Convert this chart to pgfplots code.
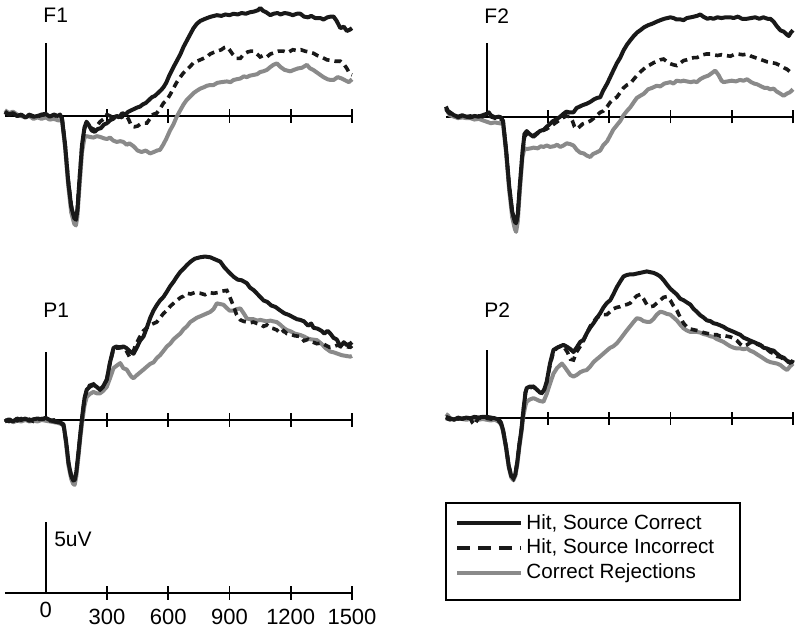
\documentclass[border=0pt]{standalone}
\usepackage{fontspec}
\setmainfont{Liberation Sans}
\usepackage{pgfplots}
\pgfplotsset{compat=1.18}
\definecolor{crgray}{RGB}{138,138,138}
\pgfplotsset{
  erp/.style={x=0.1021pt, y=7.2pt, xmin=-200, xmax=1500,
    axis x line=middle, axis y line=none,
    x axis line style={-, line width=0.85pt},
    xtick={300,600,...,1500}, xticklabels={}, ytick=\empty,
    tick align=center, major tick length=6.7pt,
    every tick/.style={black, line width=0.85pt},
    clip=false, anchor=south west},
  hsc/.style={black!90, line width=2pt, line join=round},
  hsi/.style={black!90, line width=1.8pt, dash pattern=on 3.5pt off 2.5pt},
  cr/.style={crgray, line width=2pt, line join=round},
  bar/.style={black, line width=0.85pt, forget plot},
}
\tikzset{plab/.style={anchor=base west, inner sep=0pt, font=\fontsize{10.5}{12}\selectfont}}
\begin{document}
\begin{tikzpicture}
\useasboundingbox (0,0) rectangle (400pt,313.5pt);

% ---------------- F1 ----------------
\begin{axis}[erp, at={(2.43pt,190.7pt)}, ymin=-9, ymax=9]
\addplot[bar] coordinates {(0,0) (0,5.1)};
\addplot[cr] coordinates {(-200,0.4) (-180,0.2) (-160,0.3) (-140,0.1) (-120,0.0) (-100,-0.1) (-80,0.0) (-60,-0.2) (-40,-0.1) (-20,-0.2) (0,-0.1) (20,-0.25) (40,-0.2) (60,-0.3) (80,-0.3) (95,-2.2) (110,-4.8) (125,-6.7) (140,-7.5) (148,-7.6) (155,-7.0) (165,-5.0) (178,-2.5) (190,-1.5) (200,-1.4) (215,-1.45) (234,-1.5) (250,-1.4) (266,-1.45) (285,-1.55) (300,-1.6) (315,-1.5) (330,-1.7) (348,-1.8) (365,-1.75) (380,-1.8) (397,-2.0) (410,-1.9) (430,-2.1) (450,-2.4) (470,-2.5) (490,-2.4) (511,-2.6) (530,-2.5) (545,-2.4) (560,-2.35) (575,-2.0) (590,-1.6) (609,-1.0) (625,-0.6) (640,-0.1) (659,0.4) (675,0.8) (690,1.1) (708,1.35) (725,1.6) (740,1.75) (757,1.9) (775,2.0) (790,2.1) (805,2.15) (822,2.15) (840,2.3) (860,2.35) (887,2.4) (905,2.35) (920,2.5) (935,2.55) (953,2.6) (970,2.75) (985,2.7) (1000,2.8) (1018,2.85) (1035,2.9) (1050,3.05) (1065,3.1) (1083,3.2) (1100,3.4) (1115,3.55) (1132,3.65) (1150,3.4) (1170,3.2) (1198,3.1) (1215,3.2) (1235,3.3) (1255,3.35) (1279,3.55) (1295,3.3) (1310,3.2) (1330,3.0) (1345,2.85) (1360,2.7) (1380,2.55) (1395,2.5) (1410,2.5) (1430,2.7) (1450,2.6) (1470,2.45) (1485,2.35) (1500,2.55)};
\addplot[hsi] coordinates {(-200,0.25) (-180,0.1) (-160,0.15) (-140,0.0) (-120,0.05) (-100,-0.05) (-80,0.1) (-60,0.0) (-40,-0.05) (-20,0.05) (0,0.1) (20,0.0) (40,0.05) (60,-0.05) (80,-0.15) (95,-2.0) (110,-4.4) (125,-6.2) (140,-7.0) (148,-7.1) (155,-6.5) (165,-4.4) (178,-2.0) (190,-0.9) (200,-0.5) (215,-0.7) (234,-1.0) (250,-0.7) (266,-0.4) (285,-0.2) (300,0.1) (315,0.0) (330,-0.1) (350,0.0) (370,-0.1) (390,0.05) (405,-0.2) (420,-0.7) (435,-0.75) (450,-0.7) (465,-0.55) (480,-0.5) (495,-0.5) (510,-0.2) (525,0.1) (544,0.2) (560,0.5) (577,0.9) (593,1.1) (610,1.5) (625,1.9) (640,2.3) (659,2.7) (675,3.0) (690,3.2) (705,3.4) (724,3.7) (740,3.8) (757,3.9) (773,4.0) (789,4.1) (805,4.3) (820,4.4) (840,4.5) (860,4.6) (875,4.75) (887,4.8) (900,4.6) (915,4.3) (935,4.0) (953,4.0) (970,4.3) (990,4.45) (1005,4.5) (1018,4.5) (1035,4.3) (1050,4.1) (1065,4.2) (1083,4.1) (1100,4.3) (1120,4.4) (1140,4.5) (1165,4.5) (1185,4.4) (1210,4.6) (1230,4.55) (1250,4.6) (1270,4.5) (1290,4.45) (1312,4.35) (1330,4.2) (1350,4.1) (1377,3.9) (1400,3.85) (1420,3.8) (1443,3.8) (1460,3.6) (1475,3.3) (1490,2.9) (1500,2.85)};
\addplot[hsc] coordinates {(-200,0.3) (-180,0.1) (-160,0.2) (-140,0.0) (-120,0.1) (-100,-0.1) (-80,0.05) (-60,-0.05) (-40,0.0) (-20,0.1) (0,0.15) (20,-0.05) (40,0.1) (60,0.0) (70,0.1) (80,-0.2) (95,-2.0) (110,-4.5) (125,-6.3) (140,-7.1) (148,-7.2) (155,-6.6) (165,-4.5) (178,-2.0) (190,-0.8) (200,-0.4) (210,-0.6) (225,-1.0) (240,-1.1) (255,-0.9) (270,-0.85) (285,-0.6) (300,-0.5) (315,-0.3) (330,-0.2) (345,0.0) (360,-0.1) (375,0.2) (390,0.1) (405,0.3) (420,0.4) (435,0.5) (450,0.6) (462,0.65) (475,0.8) (490,0.9) (505,1.1) (520,1.3) (535,1.4) (550,1.6) (565,1.8) (577,2.0) (590,2.3) (605,2.8) (626,3.4) (645,3.9) (660,4.3) (675,4.8) (690,5.2) (705,5.6) (724,6.1) (740,6.4) (757,6.6) (773,6.7) (790,6.8) (810,6.9) (838,7.0) (860,6.95) (880,7.05) (900,7.0) (920,7.1) (940,7.05) (960,7.15) (980,7.1) (1000,7.2) (1020,7.25) (1040,7.35) (1051,7.5) (1065,7.3) (1080,7.2) (1100,7.0) (1116,7.1) (1135,7.15) (1150,7.05) (1170,7.15) (1190,7.1) (1210,7.0) (1230,7.1) (1247,7.1) (1265,6.9) (1285,6.85) (1300,6.95) (1320,6.8) (1345,6.8) (1360,6.7) (1380,6.85) (1395,6.9) (1410,6.9) (1425,6.6) (1443,6.1) (1460,6.2) (1475,5.9) (1490,6.0) (1500,6.1)};
\node[plab] at (axis cs:-13,6.46) {F1};
\end{axis}

% ---------------- F2 ----------------
\begin{axis}[erp, at={(222.93pt,190.35pt)}, ymin=-9, ymax=9]
\addplot[bar] coordinates {(0,0) (0,5.1)};
\addplot[cr] coordinates {(-200,0.6) (-190,0.3) (-180,0.1) (-160,0.0) (-140,-0.1) (-120,-0.05) (-100,-0.1) (-80,-0.1) (-60,-0.2) (-40,-0.15) (-20,-0.25) (0,-0.35) (20,-0.45) (40,-0.4) (60,-0.45) (80,-0.5) (95,-2.5) (110,-5.1) (125,-7.0) (138,-7.8) (144,-8.0) (152,-7.3) (162,-5.2) (175,-2.8) (185,-2.2) (196,-2.25) (215,-2.2) (230,-2.15) (250,-2.2) (265,-2.05) (278,-2.1) (295,-2.0) (310,-2.1) (330,-2.05) (345,-1.95) (360,-2.1) (376,-2.0) (392,-1.85) (408,-1.9) (425,-2.0) (441,-2.3) (458,-2.5) (475,-2.55) (490,-2.7) (507,-2.8) (520,-2.6) (535,-2.5) (556,-2.35) (570,-2.0) (590,-1.7) (605,-1.3) (620,-0.9) (637,-0.6) (654,-0.3) (670,0.1) (687,0.4) (703,0.65) (720,1.0) (735,1.3) (752,1.45) (770,1.6) (790,1.9) (810,2.0) (833,2.15) (850,2.1) (870,2.3) (885,2.35) (899,2.4) (915,2.3) (930,2.5) (950,2.45) (964,2.5) (980,2.45) (1000,2.4) (1015,2.45) (1029,2.4) (1045,2.6) (1065,2.75) (1085,2.85) (1100,3.0) (1119,3.2) (1135,2.9) (1150,2.5) (1160,2.4) (1180,2.45) (1200,2.5) (1220,2.45) (1240,2.55) (1258,2.5) (1275,2.6) (1295,2.4) (1310,2.3) (1324,2.25) (1345,2.1) (1360,2.0) (1375,2.0) (1389,1.9) (1405,1.95) (1420,1.75) (1438,1.6) (1454,1.45) (1470,1.6) (1485,1.7) (1500,1.9)};
\addplot[hsi] coordinates {(-200,0.5) (-180,0.2) (-160,0.1) (-140,-0.05) (-120,0.05) (-100,0.0) (-80,0.05) (-60,-0.05) (-40,0.05) (-20,0.0) (0,0.15) (20,0.0) (40,-0.1) (60,-0.05) (80,-0.3) (95,-2.3) (110,-4.8) (125,-6.6) (138,-7.3) (144,-7.4) (152,-6.8) (162,-4.8) (175,-2.5) (185,-1.4) (196,-1.2) (212,-1.4) (230,-1.3) (250,-1.1) (270,-1.0) (294,-0.85) (310,-0.7) (330,-0.5) (350,-0.3) (370,-0.1) (390,0.05) (408,0.0) (420,-0.3) (430,-0.7) (441,-0.85) (455,-0.7) (470,-0.5) (490,-0.4) (507,-0.3) (525,-0.1) (540,0.1) (556,0.3) (572,0.4) (590,0.7) (605,1.0) (620,1.2) (637,1.35) (655,1.7) (670,2.0) (687,2.2) (703,2.3) (720,2.6) (735,2.85) (752,3.1) (768,3.3) (785,3.5) (800,3.6) (818,3.75) (835,3.85) (850,3.95) (866,4.0) (880,3.85) (895,3.7) (915,3.6) (931,3.55) (950,3.75) (965,3.9) (980,3.95) (1000,4.05) (1015,4.1) (1029,4.1) (1045,4.2) (1060,4.3) (1075,4.35) (1095,4.35) (1110,4.3) (1130,4.25) (1150,4.3) (1170,4.25) (1193,4.2) (1210,4.3) (1230,4.35) (1255,4.3) (1275,4.35) (1295,4.2) (1315,4.1) (1335,4.0) (1356,3.9) (1375,3.8) (1395,3.75) (1415,3.7) (1438,3.55) (1455,3.4) (1470,3.3) (1487,3.1) (1500,3.3)};
\addplot[hsc] coordinates {(-200,0.7) (-190,0.4) (-180,0.3) (-160,0.1) (-140,0.0) (-120,0.1) (-100,0.0) (-80,-0.05) (-60,0.05) (-40,0.0) (-20,0.1) (0,0.2) (10,0.3) (20,0.1) (40,-0.05) (60,0.0) (70,-0.05) (80,-0.3) (95,-2.3) (110,-4.8) (125,-6.6) (138,-7.3) (144,-7.4) (152,-6.8) (162,-4.8) (175,-2.5) (185,-1.2) (196,-1.0) (210,-1.2) (229,-1.4) (245,-1.2) (260,-1.0) (280,-0.9) (294,-0.7) (310,-0.5) (325,-0.3) (340,-0.2) (360,0.0) (376,0.2) (390,0.35) (405,0.3) (425,0.3) (440,0.6) (455,0.7) (470,0.8) (490,0.9) (510,1.05) (525,1.2) (540,1.3) (556,1.35) (570,1.8) (590,2.3) (605,2.75) (620,3.2) (637,3.7) (654,4.1) (670,4.6) (687,5.0) (703,5.3) (720,5.6) (737,5.85) (752,6.0) (770,6.2) (790,6.35) (810,6.45) (833,6.6) (850,6.7) (870,6.8) (885,6.85) (899,6.9) (915,6.85) (930,6.75) (950,6.75) (964,6.7) (980,6.85) (1000,6.9) (1015,6.95) (1030,7.0) (1046,7.1) (1060,6.95) (1080,6.8) (1095,6.85) (1111,6.8) (1130,6.9) (1150,6.85) (1170,6.9) (1193,6.9) (1210,6.85) (1230,6.95) (1250,6.8) (1275,6.8) (1295,6.85) (1315,6.9) (1335,6.8) (1355,6.9) (1375,6.8) (1389,6.8) (1405,6.6) (1420,6.3) (1438,6.0) (1455,5.9) (1470,5.7) (1479,5.6) (1490,5.85) (1500,6.0)};
\node[plab] at (axis cs:-13,6.46) {F2};
\end{axis}

% ---------------- P1 ----------------
\begin{axis}[erp, at={(2.43pt,67.5pt)}, ymin=-5, ymax=12]
\addplot[bar] coordinates {(0,0) (0,4.75)};
\addplot[cr] coordinates {(-200,-0.1) (-180,0.0) (-160,-0.15) (-140,-0.05) (-120,-0.1) (-100,0.0) (-80,-0.1) (-60,-0.05) (-40,-0.1) (-20,0.0) (0,-0.05) (20,-0.1) (40,-0.15) (60,-0.2) (80,-0.3) (90,-0.5) (100,-1.7) (112,-3.2) (125,-4.1) (135,-4.45) (142,-4.5) (150,-3.9) (160,-2.6) (170,-1.2) (180,0.0) (190,1.0) (201,1.6) (215,1.8) (234,1.95) (250,1.85) (266,1.85) (280,2.0) (299,2.3) (315,2.9) (332,3.6) (350,3.8) (365,3.95) (380,3.6) (397,3.5) (410,3.2) (420,3.0) (430,2.9) (445,3.1) (462,3.3) (479,3.5) (495,3.7) (512,3.9) (528,4.0) (544,4.3) (560,4.5) (577,4.8) (593,5.1) (610,5.3) (626,5.6) (642,5.8) (659,6.0) (675,6.3) (691,6.5) (708,6.8) (724,6.95) (740,7.1) (757,7.2) (773,7.3) (789,7.4) (805,7.5) (822,7.7) (838,8.1) (855,8.05) (871,8.0) (885,7.8) (900,7.6) (920,7.6) (935,7.7) (953,7.75) (970,7.4) (985,7.05) (1000,7.0) (1018,7.0) (1035,6.9) (1051,6.95) (1067,6.9) (1083,6.85) (1100,6.9) (1115,6.85) (1132,6.8) (1150,6.6) (1165,6.4) (1181,6.25) (1200,6.15) (1220,6.0) (1247,5.9) (1265,5.8) (1285,5.65) (1300,5.6) (1328,5.55) (1350,5.3) (1370,5.0) (1394,4.75) (1410,4.7) (1430,4.6) (1450,4.5) (1470,4.45) (1492,4.4) (1500,4.45)};
\addplot[hsi] coordinates {(-200,0.0) (-180,-0.1) (-160,0.05) (-140,-0.05) (-120,0.1) (-100,0.0) (-80,0.05) (-60,-0.1) (-40,0.0) (-20,0.1) (0,0.05) (20,-0.05) (40,0.0) (60,-0.2) (75,-0.25) (87,-0.35) (100,-1.5) (112,-3.0) (125,-3.9) (135,-4.2) (142,-4.15) (150,-3.6) (160,-2.3) (170,-0.9) (180,0.4) (190,1.5) (201,2.1) (215,2.4) (234,2.5) (250,2.3) (266,2.1) (280,2.3) (299,2.8) (315,4.0) (332,4.9) (345,5.0) (360,5.0) (381,5.05) (395,4.8) (410,4.4) (425,4.6) (440,5.2) (462,5.8) (479,6.2) (495,6.4) (512,6.6) (528,6.7) (544,6.8) (560,7.1) (577,7.4) (593,7.6) (610,7.9) (626,8.1) (642,8.3) (660,8.5) (675,8.6) (691,8.8) (710,8.75) (730,8.85) (757,8.8) (780,8.7) (800,8.85) (822,8.8) (845,8.85) (865,8.95) (887,9.0) (900,8.6) (920,7.9) (935,7.3) (953,6.95) (970,6.85) (985,6.8) (1000,6.75) (1018,6.8) (1035,6.7) (1050,6.65) (1067,6.5) (1083,6.6) (1100,6.4) (1115,6.35) (1132,6.25) (1150,6.0) (1165,6.2) (1181,6.0) (1200,5.95) (1220,5.85) (1247,5.8) (1265,5.5) (1285,5.6) (1300,5.45) (1328,5.3) (1350,5.35) (1370,5.2) (1390,5.05) (1410,5.1) (1430,5.2) (1450,5.1) (1470,5.1) (1492,5.05) (1500,5.15)};
\addplot[hsc] coordinates {(-200,-0.1) (-180,0.05) (-160,-0.1) (-140,0.1) (-120,0.0) (-100,0.1) (-80,-0.05) (-60,0.05) (-40,0.1) (-20,0.05) (0,0.15) (20,0.0) (40,-0.1) (60,-0.15) (75,-0.2) (87,-0.3) (100,-1.5) (112,-3.0) (125,-3.9) (135,-4.2) (142,-4.15) (150,-3.6) (160,-2.3) (170,-0.9) (180,0.4) (190,1.5) (201,2.1) (215,2.3) (234,2.45) (250,2.3) (266,2.1) (280,2.3) (299,2.8) (315,4.0) (332,5.0) (345,5.1) (360,5.05) (381,5.1) (395,5.0) (410,4.8) (430,4.6) (445,5.0) (462,5.5) (479,5.8) (495,6.4) (512,7.1) (528,7.6) (545,8.0) (560,8.3) (577,8.55) (593,8.9) (610,9.3) (626,9.6) (642,9.95) (660,10.3) (675,10.5) (691,10.75) (710,11.0) (730,11.2) (756,11.3) (780,11.35) (806,11.3) (830,11.15) (855,11.0) (875,10.6) (895,10.3) (920,9.95) (940,9.75) (960,9.7) (985,9.5) (1000,9.2) (1020,9.0) (1040,8.7) (1067,8.3) (1085,8.2) (1105,7.95) (1125,7.85) (1149,7.6) (1170,7.4) (1190,7.3) (1210,7.15) (1230,7.0) (1247,6.95) (1265,6.85) (1285,6.55) (1300,6.7) (1312,6.4) (1330,6.35) (1350,6.2) (1365,6.0) (1380,6.2) (1394,6.0) (1410,5.7) (1425,5.6) (1443,5.1) (1460,5.4) (1475,5.2) (1492,5.3) (1500,5.4)};
\node[plab] at (axis cs:-13,7.15) {P1};
\end{axis}

% ---------------- P2 ----------------
\begin{axis}[erp, at={(222.93pt,68.35pt)}, ymin=-5, ymax=12]
\addplot[bar] coordinates {(0,0) (0,4.75)};
\addplot[cr] coordinates {(-200,0.3) (-190,0.2) (-180,0.0) (-160,-0.1) (-140,0.0) (-120,-0.05) (-100,-0.1) (-80,-0.05) (-60,-0.1) (-40,-0.1) (-20,-0.05) (0,-0.1) (20,-0.15) (40,-0.1) (60,-0.25) (70,-0.4) (80,-0.9) (95,-2.1) (108,-3.4) (120,-4.1) (131,-4.3) (140,-4.0) (150,-3.2) (160,-2.0) (170,-1.0) (180,0.2) (190,0.9) (196,1.15) (210,1.3) (229,1.4) (245,1.3) (260,1.2) (278,1.15) (294,1.7) (310,2.4) (327,3.1) (345,3.5) (368,3.8) (380,3.6) (395,3.3) (410,3.0) (425,2.9) (440,3.0) (458,3.2) (474,3.3) (490,3.35) (507,3.6) (523,3.9) (539,4.1) (556,4.3) (572,4.5) (588,4.7) (605,4.9) (620,5.0) (637,5.2) (654,5.5) (670,5.8) (686,6.1) (703,6.4) (720,6.7) (735,6.95) (752,6.9) (768,6.75) (784,6.7) (801,6.7) (817,6.9) (833,7.2) (850,7.4) (866,7.35) (882,7.25) (899,7.2) (915,7.0) (931,6.8) (948,6.5) (964,6.25) (980,6.1) (997,6.0) (1013,6.0) (1029,6.0) (1046,5.95) (1062,5.85) (1078,5.8) (1095,5.7) (1111,5.65) (1127,5.5) (1144,5.4) (1160,5.3) (1176,5.15) (1193,5.0) (1210,4.9) (1225,4.85) (1242,4.85) (1258,4.8) (1275,4.85) (1290,4.7) (1307,4.6) (1323,4.45) (1340,4.3) (1356,4.15) (1372,4.0) (1389,3.9) (1405,3.85) (1422,3.8) (1438,3.7) (1455,3.5) (1471,3.35) (1485,3.6) (1500,3.8)};
\addplot[hsi] coordinates {(-200,0.0) (-180,-0.1) (-160,0.0) (-140,-0.05) (-120,0.0) (-100,0.05) (-80,0.0) (-70,-0.3) (-60,-0.45) (-50,-0.2) (-40,0.0) (-20,0.05) (0,0.0) (20,-0.05) (40,-0.1) (60,-0.2) (70,-0.4) (80,-0.8) (95,-2.0) (108,-3.3) (120,-4.0) (131,-4.2) (140,-3.9) (150,-3.0) (160,-1.8) (170,-0.8) (180,0.6) (190,1.8) (196,2.0) (210,2.1) (229,2.2) (245,2.0) (260,1.8) (270,1.75) (282,2.0) (294,2.5) (310,3.7) (327,4.6) (345,4.9) (360,5.0) (376,5.0) (395,4.6) (410,4.1) (425,4.05) (440,4.6) (458,5.0) (474,5.4) (490,5.9) (507,6.4) (523,6.7) (539,7.0) (556,7.1) (572,7.2) (588,7.2) (605,7.4) (620,7.6) (637,7.7) (654,7.75) (670,7.85) (686,7.9) (703,8.0) (720,8.3) (735,8.5) (752,8.6) (768,8.3) (784,7.9) (801,7.75) (817,7.8) (833,8.0) (850,8.2) (866,8.4) (882,8.45) (899,8.2) (915,7.8) (931,7.5) (948,7.0) (964,6.6) (980,6.35) (997,6.2) (1013,6.15) (1029,6.1) (1046,6.05) (1062,5.95) (1078,5.9) (1095,5.85) (1111,5.8) (1127,5.8) (1144,5.7) (1160,5.75) (1176,5.7) (1193,5.65) (1210,5.55) (1225,5.4) (1242,5.15) (1258,5.0) (1275,5.1) (1290,5.25) (1307,5.3) (1323,5.15) (1340,5.05) (1356,5.0) (1372,4.8) (1389,4.6) (1405,4.5) (1422,4.3) (1438,4.25) (1455,4.1) (1470,3.95) (1485,3.85) (1500,3.95)};
\addplot[hsc] coordinates {(-200,0.1) (-180,0.0) (-160,-0.1) (-140,0.05) (-120,-0.05) (-100,0.05) (-80,0.0) (-60,0.1) (-40,0.05) (-20,0.1) (0,0.1) (20,0.05) (40,0.0) (60,-0.1) (70,-0.3) (80,-0.8) (95,-2.0) (108,-3.3) (120,-4.0) (131,-4.15) (140,-3.9) (150,-3.0) (160,-1.8) (170,-0.8) (180,0.6) (190,1.8) (196,2.1) (210,2.2) (229,2.2) (245,2.0) (260,1.8) (270,1.75) (282,2.0) (294,2.55) (310,3.8) (327,4.75) (345,4.9) (360,5.0) (376,5.1) (395,4.95) (410,4.8) (425,4.6) (440,4.9) (458,5.3) (474,5.45) (490,5.9) (507,6.3) (523,6.6) (539,6.95) (556,7.3) (572,7.7) (588,8.0) (605,8.2) (620,8.6) (637,9.1) (654,9.5) (670,9.85) (686,9.95) (703,10.0) (720,10.0) (735,10.05) (752,10.1) (768,10.15) (784,10.2) (800,10.15) (817,10.1) (833,10.0) (850,9.85) (866,9.6) (882,9.3) (899,9.0) (915,8.8) (931,8.6) (948,8.3) (964,8.2) (980,8.05) (997,7.9) (1013,7.6) (1029,7.4) (1046,7.15) (1062,7.0) (1078,6.8) (1095,6.75) (1111,6.6) (1127,6.55) (1144,6.45) (1160,6.35) (1176,6.2) (1193,6.1) (1210,6.0) (1225,5.9) (1242,5.8) (1258,5.6) (1275,5.5) (1290,5.4) (1307,5.3) (1323,5.2) (1340,5.1) (1356,4.9) (1372,4.85) (1389,4.75) (1405,4.7) (1420,4.5) (1438,4.3) (1455,4.2) (1470,4.0) (1485,3.9) (1495,3.9) (1500,4.05)};
\node[plab] at (axis cs:-13,7.0) {P2};
\end{axis}

% ---------------- scale + legend ----------------
\begin{axis}[erp, at={(2.43pt,9.8pt)}, ymin=-1, ymax=6,
  xticklabels={300,600,900,1200,1500},
  extra x ticks={0}, extra x tick labels={0},
  extra x tick style={major tick length=0pt},
  xticklabel style={anchor=base, inner sep=0pt, yshift=-12.5pt, font=\fontsize{11}{13}\selectfont},
  legend cell align=left,
  legend style={at={(1.2709,1.0387)}, anchor=north west, draw=none, fill=none,
    font=\fontsize{10.3}{12}\selectfont, inner xsep=4.5pt, inner ysep=3.5pt, row sep=-0.6pt,
    nodes={inner xsep=1.5pt}},
  legend image code/.code={\draw[#1] (0pt,0pt) -- (32pt,0pt);},
]
\addplot[bar] coordinates {(0,0) (0,4.95)};
\addlegendimage{black!90, line width=2pt}
\addlegendentry{Hit, Source Correct}
\addlegendimage{black!90, line width=2pt, dash pattern=on 6.5pt off 4pt}
\addlegendentry{Hit, Source Incorrect}
\addlegendimage{crgray, line width=2pt}
\addlegendentry{Correct Rejections}
\node[plab] at (axis cs:40,3.2) {5uV};
\end{axis}
% legend frame
\draw[black, line width=1pt] (223pt,13.5pt) rectangle (370pt,62.15pt);
\end{tikzpicture}
\end{document}
